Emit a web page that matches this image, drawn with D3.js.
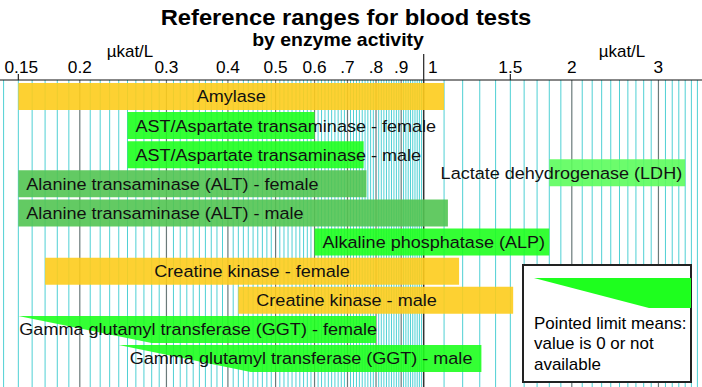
<!DOCTYPE html>
<html>
<head>
<meta charset="utf-8">
<script src="https://cdn.jsdelivr.net/npm/d3@7"></script>
<style>
  body { margin: 0; background: #fff; }
  text { font-family: "Liberation Sans", Arial, sans-serif; }
</style>
</head>
<body>
<script>
// Reference ranges, µkat/L
const tests = [
  "Amylase",
  "AST/Aspartate transaminase - female",
  "AST/Aspartate transaminase - male",
  "Alanine transaminase (ALT) - female",
  "Alanine transaminase (ALT) - male",
  "Lactate dehydrogenase (LDH)",
  "Alkaline phosphatase (ALP)",
  "Creatine kinase - female",
  "Creatine kinase - male",
  "Gamma glutamyl transferase (GGT) - female",
  "Gamma glutamyl transferase (GGT) - male"
];
const lows  = [0.15, 0.25, 0.25, 0.15, 0.15, 1.8, 0.6, 0.17, 0.42, 0, 0];
const highs = [1.1, 0.6, 0.755, 0.765, 1.12, 3.4, 1.8, 1.18, 1.52, 0.8, 1.31];
// where the pointed (no lower limit) bars start and reach full height
const pointTips = [null, null, null, null, null, null, null, null, null, 0.15, 0.24];
const pointFull = [null, null, null, null, null, null, null, null, null, 0.28, 0.445];
const rowIndex = [0, 1, 2, 3, 4, 2.62, 5, 6, 7, 8, 9];
const kinds = ["amy", "ast", "ast", "alt", "alt", "ldh", "ast", "amy", "amy", "ast", "ast"];
const labelAlign = ["middle", "start", "start", "start", "start", "end", "start", "middle", "start", "start", "start"];

const tickValues = [0.15, 0.2, 0.3, 0.4, 0.5, 0.6, 0.7, 0.8, 0.9, 1, 1.5, 2, 3];
const tickLabels = ["0.15", "0.2", "0.3", "0.4", "0.5", "0.6", ".7", ".8", ".9", "1", "1.5", "2", "3"];
const majorValues = [0.2, 0.3, 0.4, 0.5, 0.6, 0.7, 0.8, 0.9, 1, 2, 3];

const width = 702, height = 387;
const axisY = 80;
const SX = 1.08; // text in the original is a bit wider than Arial

const color = d3.scaleOrdinal()
  .domain(["amy", "ast", "alt", "ldh"])
  .range(["#fdcc1c", "#1eff1e", "#52c452", "#5cfc5c"]);

const x = d3.scaleLog()
  .domain([0.1, 10])
  .range([423.7 - 492, 423.7 + 492]);

const y = d3.scaleLinear()
  .domain([0, 9])
  .range([83, 345]);
const barH = 27;

// widen text horizontally around its anchor point
function stretch(sel) {
  sel.attr("transform", function() {
    const tx = +this.getAttribute("x"), ty = +this.getAttribute("y");
    return `translate(${tx},${ty}) scale(${SX},1) translate(${-tx},${-ty})`;
  });
}

const svg = d3.select("body").append("svg")
  .attr("width", width)
  .attr("height", height);

// grid lines
const minor = d3.range(14, 100).map(d => d / 100)
  .concat(d3.range(11, 37).map(d => d / 10))
  .filter(v => !majorValues.some(m => Math.abs(m - v) < 1e-9));

svg.append("g").selectAll("line")
  .data(minor)
  .join("line")
  .attr("x1", d => x(d)).attr("x2", d => x(d))
  .attr("y1", axisY).attr("y2", height)
  .attr("stroke", "#4fd0d4")
  .attr("stroke-width", 1);

svg.append("g").selectAll("line")
  .data(majorValues)
  .join("line")
  .attr("x1", d => x(d)).attr("x2", d => x(d))
  .attr("y1", axisY).attr("y2", height)
  .attr("stroke", d => d === 1 ? "#333" : "#6a7a7a")
  .attr("stroke-width", d => d === 1 ? 1.5 : 1.2);

// axis
svg.append("line")
  .attr("x1", 0).attr("x2", width)
  .attr("y1", axisY).attr("y2", axisY)
  .attr("stroke", "#111").attr("stroke-width", 1.2);

svg.append("g").selectAll("line")
  .data([0.15, 1, 1.5])
  .join("line")
  .attr("x1", d => x(d)).attr("x2", d => x(d))
  .attr("y1", d => d === 1 ? 54 : 74).attr("y2", axisY)
  .attr("stroke", "#222").attr("stroke-width", 1.2);

svg.append("g").selectAll("text")
  .data(tickValues)
  .join("text")
  .attr("x", d => x(d) + (d === 1 ? 9 : d === 0.15 ? 3 : 0))
  .attr("y", 73)
  .attr("text-anchor", "middle")
  .style("font-size", "16px")
  .text((d, i) => tickLabels[i])
  .call(stretch);

svg.selectAll(".unit")
  .data([130, 622])
  .join("text")
  .attr("class", "unit")
  .attr("x", d => d).attr("y", 57)
  .attr("text-anchor", "middle")
  .style("font-size", "15.7px")
  .text("µkat/L")
  .call(stretch);

// bars
const rows = tests.map((t, i) => ({
  name: t, lo: lows[i], hi: highs[i], tip: pointTips[i], full: pointFull[i],
  row: rowIndex[i], kind: kinds[i], align: labelAlign[i]
}));

const bars = svg.append("g").selectAll("g")
  .data(rows)
  .join("g");

bars.append("path")
  .attr("d", d => {
    const top = y(d.row), bot = top + barH;
    if (d.tip != null) {
      return `M${x(d.tip)},${top}H${x(d.hi)}V${bot}H${x(d.full)}Z`;
    }
    return `M${x(d.lo)},${top}H${x(d.hi)}V${bot}H${x(d.lo)}Z`;
  })
  .attr("fill", d => color(d.kind))
  .attr("fill-opacity", 0.9);

function labelPad(name) {
  if (name === "Creatine kinase - male") return 18;
  if (name.endsWith("(GGT) - female")) return 1;
  if (name.endsWith("(GGT) - male")) return 11;
  return 8;
}

bars.append("text")
  .attr("x", d => {
    const start = d.tip != null ? x(d.tip) : x(d.lo);
    if (d.align === "middle") return (start + x(d.hi)) / 2;
    if (d.align === "end") return x(d.hi) - 3;
    return start + labelPad(d.name);
  })
  .attr("y", d => y(d.row) + barH / 2 + 6)
  .attr("text-anchor", d => d.align)
  .style("font-size", "16.7px")
  .attr("fill", "#111")
  .text(d => d.name)
  .call(stretch);

// title
svg.append("text")
  .attr("x", 346).attr("y", 25)
  .attr("text-anchor", "middle")
  .style("font-size", "22px").style("font-weight", "bold")
  .text("Reference ranges for blood tests")
  .call(stretch);
svg.append("text")
  .attr("x", 338).attr("y", 46)
  .attr("text-anchor", "middle")
  .style("font-size", "18px").style("font-weight", "bold")
  .text("by enzyme activity")
  .call(stretch);

// legend
const lg = svg.append("g").attr("transform", "translate(523,265)");
lg.append("rect")
  .attr("width", 168).attr("height", 117)
  .attr("fill", "#fff").attr("stroke", "#222").attr("stroke-width", 2);
lg.append("path")
  .attr("d", "M11,13H168V43H126Z")
  .attr("fill", color("ast"));
lg.selectAll(".lt")
  .data(["Pointed limit means:", "value is 0 or not", "available"])
  .join("text")
  .attr("class", "lt")
  .attr("x", 11)
  .attr("y", (d, i) => 64 + i * 20.5)
  .style("font-size", "15.7px")
  .text(d => d)
  .call(stretch);
</script>
</body>
</html>
